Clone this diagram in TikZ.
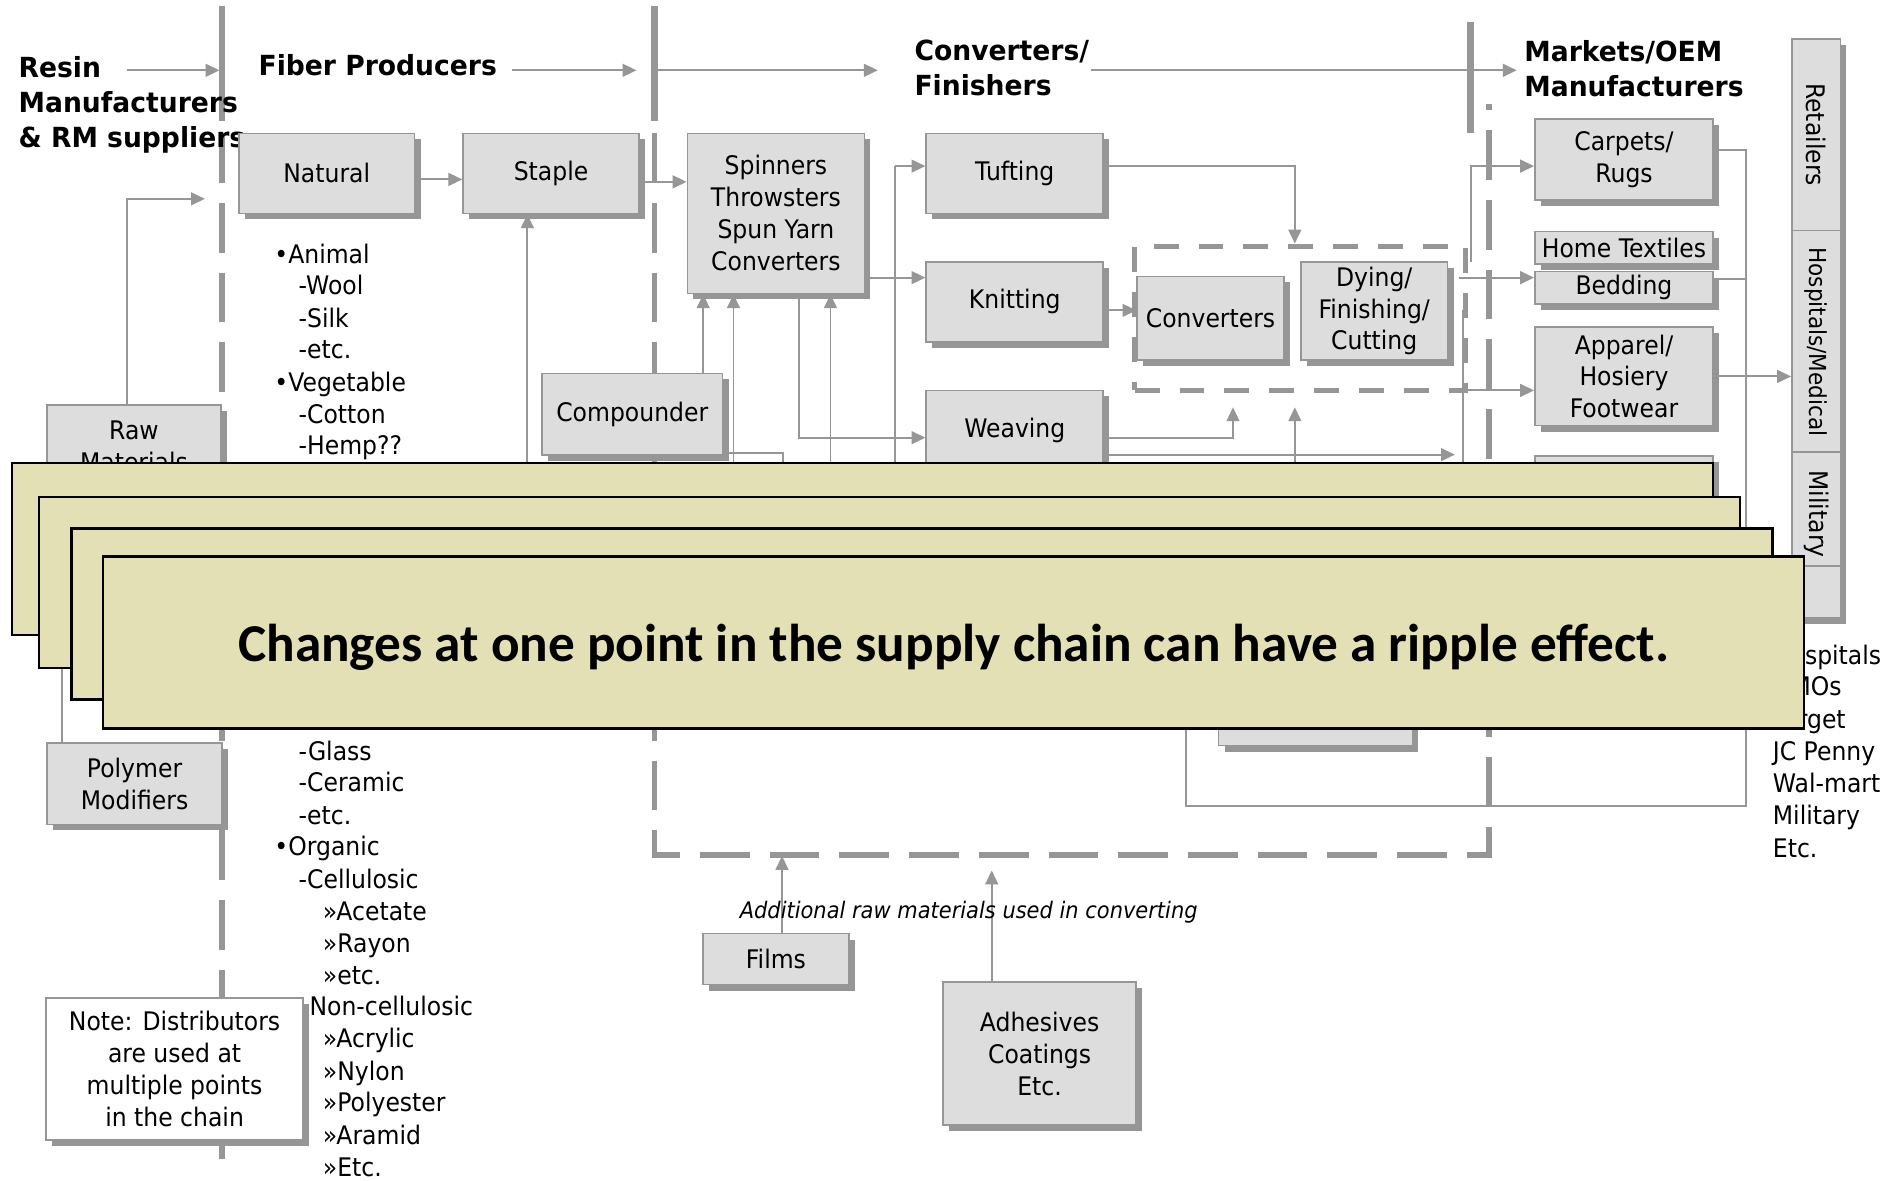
\documentclass[tikz,border=0pt]{standalone}
\usepackage{fontspec}
\setmainfont{DejaVu Sans}[FakeStretch=0.92]
\newfontfamily\headfamily{DejaVu Sans}[FakeStretch=0.96]
\newfontfamily\ripplefont{Carlito}
\usetikzlibrary{arrows.meta,shadows}
\definecolor{boxfill}{RGB}{221,221,221}
\definecolor{boxline}{RGB}{150,150,150}
\definecolor{linegray}{RGB}{150,150,150}
\definecolor{notefill}{RGB}{227,224,182}
\newcommand{\boxfont}{\fontsize{12}{15}\selectfont}
\newcommand{\headfont}{\headfamily\fontsize{13}{16.4}\selectfont\bfseries}

\begin{document}
\begin{tikzpicture}[x=0.02cm,y=-0.02cm,
    boxsize/.style 2 args={minimum width=#1*0.02cm,minimum height=#2*0.02cm},
    stage/.style={draw=boxline,line width=0.8pt,fill=boxfill,align=center,inner sep=0pt,font=\boxfont,
        drop shadow={shadow xshift=0.1cm,shadow yshift=-0.1cm,fill=boxline,opacity=1}},
    conn/.style={draw=linegray,line width=0.9pt},
    flow/.style={conn,-{Triangle[length=6.5pt,width=6pt]}},
    divider/.style={draw=linegray,line width=3pt},
    dashdiv/.style={draw=linegray,line width=2.6pt,dash pattern=on 0.82cm off 0.33cm},
    groupbox/.style={draw=linegray,line width=2.4pt,dash pattern=on 0.41cm off 0.33cm,inner sep=0pt},
    head/.style={font=\headfont,align=left,inner sep=0pt},
    item/.style={font=\boxfont,anchor=base west,inner sep=0pt},
    ripple/.style={draw=black,line width=1.1pt,fill=notefill}]
    \fill[white] (0,0) rectangle (1568,974);
    \useasboundingbox (0,0) rectangle (1568,974);

    % stage dividers
    \draw[divider] (183,5) -- (183,100);
    \draw[dashdiv] (183,110) -- (183,960);
    \draw[divider] (540,5) -- (540,100);
    \draw[dashdiv] (540,110) -- (540,705) -- (1228,705) -- (1228,86);
    \draw[divider] (1213,18) -- (1213,110);
    \node[groupbox,boxsize={273}{119}] (group) at (1072.5,262.5) {};

    % headings
    \node[head,anchor=north west] (resin) at (15,46) {Resin\\Manufacturers\\\& RM suppliers};
    \node[head,anchor=west] (fiber) at (213,54) {Fiber Producers};
    \node[head,anchor=north west] (convhead) at (754,33) {Converters/\\Finishers};
    \node[head,anchor=north west] (markets) at (1257,33) {Markets/OEM\\Manufacturers};
    \draw[flow] (105,58) -- (181,58);
    \draw[flow] (422,58) -- (525,58);
    \draw[flow] (540,58) -- (724,58);
    \draw[flow] (900,58) -- (1251,58);

    % boxes
    \node[stage,boxsize={145}{66}] (natural) at (269.5,143) {Natural};
    \node[stage,boxsize={145}{66}] (staple) at (454.5,143) {Staple};
    \node[stage,boxsize={146}{132}] (spinner) at (640,176) {Spinners\\Throwsters\\Spun Yarn\\Converters};
    \node[stage,boxsize={146}{66}] (tufting) at (837,143) {Tufting};
    \node[stage,boxsize={146}{66}] (knitting) at (837,249) {Knitting};
    \node[stage,boxsize={146}{66}] (weaving) at (837,355) {Weaving};
    \node[stage,boxsize={121}{69}] (convert) at (998.5,262.5) {Converters};
    \node[stage,boxsize={121}{81}] (dyeing) at (1133.5,256.5) {Dying/\\Finishing/\\Cutting};
    \node[stage,boxsize={147}{67}] (carpets) at (1339.5,131.5) {Carpets/\\Rugs};
    \node[stage,boxsize={147}{27}] (hometex) at (1339.5,204.5) {Home Textiles};
    \node[stage,boxsize={147}{27}] (bedding) at (1339.5,237.5) {Bedding};
    \node[stage,boxsize={147}{81}] (apparel) at (1339.5,310.5) {Apparel/\\Hosiery\\Footwear};
    \node[stage,boxsize={147}{64}] (market4) at (1339.5,408) {};
    \node[stage,boxsize={149}{67}] (compound) at (521.5,341.5) {Compounder};
    \node[stage,boxsize={143}{68}] (rawmat) at (110.5,368) {Raw\\Materials};
    \node[stage,boxsize={144}{67}] (polymer) at (111,646.5) {Polymer\\Modifiers};
    \node[stage,boxsize={120}{42}] (films) at (640,791) {Films};
    \node[stage,boxsize={159}{118}] (adhesive) at (857.5,869) {Adhesives\\Coatings\\Etc.};
    \node[stage,boxsize={160}{60}] (lowerbox) at (1085,585) {};

    % outlets column
    \node[stage,boxsize={40}{478}] (outlet) at (1498,271) {};
    \draw[draw=boxline,line width=0.8pt] (1478,190) -- (1518,190) (1478,373) -- (1518,373) (1478,467) -- (1518,467);
    \node[font=\boxfont,rotate=-90] (retail) at (1498,111) {Retailers};
    \node[font=\fontsize{11}{13}\selectfont,rotate=-90] (medical) at (1498,282) {Hospitals/Medical};
    \node[font=\boxfont,rotate=-90] (military) at (1498,424) {Military};

    % connectors
    \draw[flow] (rawmat.north -| 105,0) -- (105,164) -- (169,164);
    \draw[flow] (natural.east |- 0,148) -- (staple.west |- 0,148);
    \draw[flow] (staple.east |- 0,150) -- (spinner.west |- 0,150);
    \draw[flow] (435,420) -- (435,0 |- staple.south);
    \draw[conn] (738,420) -- (738,137);
    \draw[flow] (738,137) -- (tufting.west |- 0,137);
    \draw[flow] (spinner.east |- 0,229) -- (knitting.west |- 0,229);
    \draw[flow] (580,0 |- compound.north) -- (580,0 |- spinner.south);
    \draw[flow] (605,420) -- (605,0 |- spinner.south);
    \draw[flow] (685,420) -- (685,0 |- spinner.south);
    \draw[flow] (659,0 |- spinner.south) -- (659,361) -- (weaving.west |- 0,361);
    \draw[conn] (compound.east |- 0,374) -- (646,374) -- (646,420);
    \draw[flow] (tufting.east |- 0,137) -- (1068,137) -- (1068,0 |- group.north);
    \draw[flow] (knitting.east |- 0,256) -- (convert.west |- 0,256);
    \draw[flow] (weaving.east |- 0,361) -- (1017,361) -- (1017,336);
    \draw[flow] (1068,420) -- (1068,336);
    \draw[flow] (weaving.east |- 0,375) -- (1200,375);
    \draw[flow] (1203,229) -- (bedding.west |- 0,229);
    \draw[flow] (1213,216) -- (1213,137) -- (carpets.west |- 0,137);
    \draw[conn] (1207,256) -- (1207,420);
    \draw[flow] (1207,322) -- (apparel.west |- 0,322);
    \draw[conn] (carpets.east |- 0,124) -- (1440,124) -- (1440,665) -- (978,665) -- (978,590);
    \draw[conn] (bedding.east |- 0,230) -- (1440,230);
    \draw[flow] (apparel.east) -- (apparel.east -| outlet.west);
    \draw[flow] (645,0 |- films.north) -- (645,706);
    \draw[flow] (818,0 |- adhesive.north) -- (818,718);
    \draw[conn] (51,0 |- polymer.north) -- (51,500);

    % fiber list
    \foreach \x/\y/\t in {226/211/{•Animal},246/237/{-Wool},246/264/{-Silk},246/290/{-etc.},
        226/317/{•Vegetable},246/343/{-Cotton},246/369/{-Hemp??},246/621/{-Glass},
        246/647/{-Ceramic},246/674/{-etc.},226/700/{•Organic},246/727/{-Cellulosic},
        266/753/{»Acetate},266/780/{»Rayon},266/806/{»etc.},255/832/{Non-cellulosic},
        266/858/{»Acrylic},266/885/{»Nylon},266/911/{»Polyester},266/938/{»Aramid},266/964/{»Etc.}}
        \node[item] at (\x,\y+6) {\t};
    \node[stage,fill=white,boxsize={212}{117}] (note) at (144,881.5) {Note: Distributors\\are used at\\multiple points\\in the chain};

    % outlet list
    \foreach \y/\t in {542/Hospitals,568/HMOs,595/Target,621/JC Penny,648/Wal-mart,674/Military,701/Etc.}
        \node[item] at (1462,\y+6) {\t};
    \node[font=\fontsize{10.7}{13}\selectfont\itshape,inner sep=0pt] (extra) at (799,752) {Additional raw materials used in converting};

    % ripple cards
    \foreach \l/\t/\r/\b in {10/382/1413/524,32/410/1435/551,59/436/1462/577,85/459/1488/601}
        \draw[ripple] (\l,\t) rectangle (\r,\b);
    \node[font={\ripplefont\bfseries\fontsize{25}{30}\selectfont},anchor=base,inner sep=0pt] (message) at (786.5,546)
        {Changes at one point in the supply chain can have a ripple effect.};
\end{tikzpicture}
\end{document}
